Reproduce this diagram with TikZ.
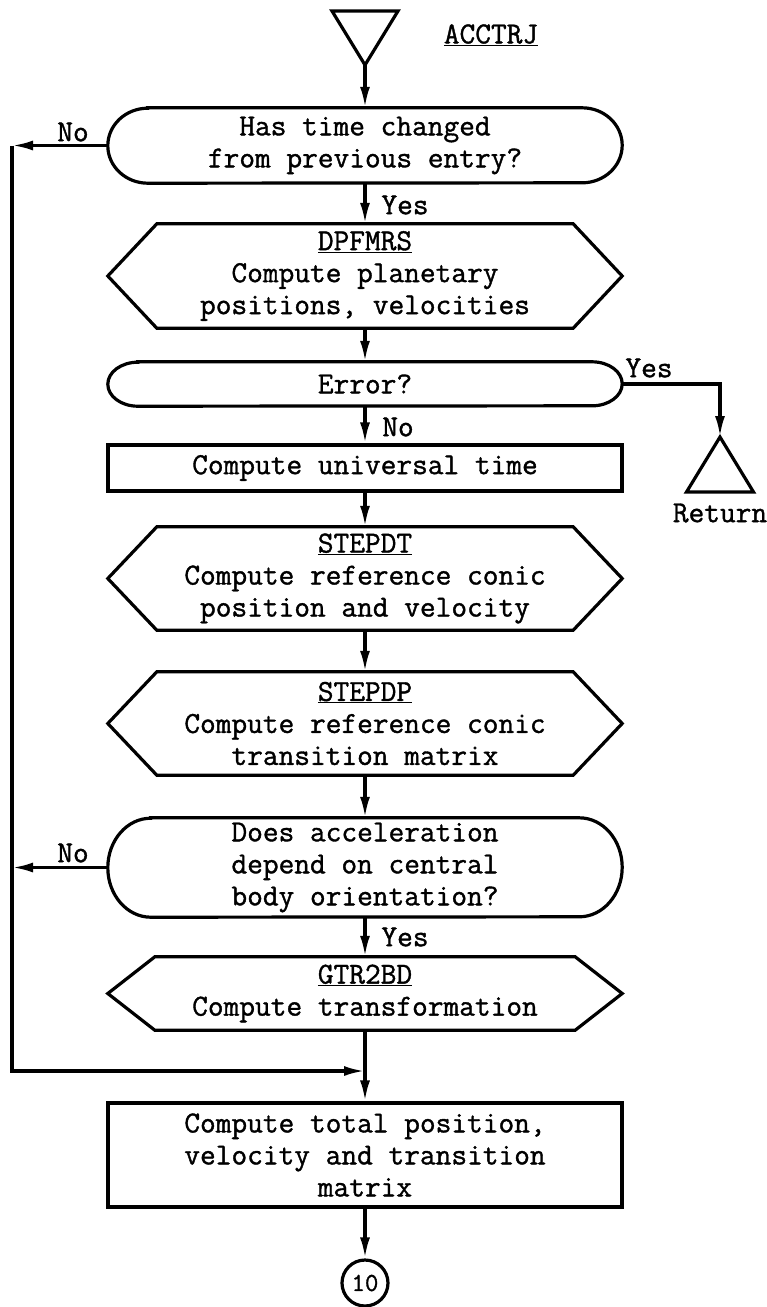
\documentclass[tikz,border=0pt]{standalone}
\usepackage{fontspec}
\setmonofont{Latin Modern Mono}[FakeBold=1.2]
\usetikzlibrary{arrows.meta,calc}
\tikzset{
  ln/.style={line width=3.2pt},
  arr/.style={ln, -{Latex[length=21pt,width=10pt]}},
  txt/.style={font=\ttfamily\fontsize{30.5}{32}\selectfont, align=center, inner sep=0pt},
  shp/.style={txt, minimum width=514pt},
  pinbox/.style={inner sep=0pt, outer sep=0pt},
}
\newcommand\hexdraw[2]{\draw[ln] (#1.west) -- ([xshift=#2]#1.north west) -- ([xshift=-#2]#1.north east) -- (#1.east) -- ([xshift=-#2]#1.south east) -- ([xshift=#2]#1.south west) -- cycle;}
\newcommand\stadraw[3]{\draw[ln] ([xshift=#2]#1.north west) -- ([xshift=-#2]#1.north east) arc[start angle=90,end angle=-90,x radius=#2,y radius=#3] -- ([xshift=#2]#1.south west) arc[start angle=270,end angle=90,x radius=#2,y radius=#3] -- cycle;}
\begin{document}
\begin{tikzpicture}[x=1pt,y=1pt]
\useasboundingbox (0,0) rectangle (766,-1307);
% start
\node[pinbox, minimum width=66pt, minimum height=54pt] (st) at (365,-38) {};
\draw[ln] (st.north west) -- (st.north east) -- (st.south) -- cycle;
\node[txt] (acc) at (491,-35) {\underline{ACCTRJ}};
% decision 1
\node[shp, minimum height=75pt] (d1) at (365,-145.5) {Has time changed\\from previous entry?};
\stadraw{d1}{40}{37.5}
\draw[arr] (st.south) -- (d1.north);
\node[txt] (no1) at (73,-132) {No};
\coordinate (L1) at (12,-145.5);
\draw[arr] (d1.west) -- (L1);
% hex 1
\node[shp, minimum height=104pt] (h1) at (365,-276) {\underline{DPFMRS}\\Compute planetary\\positions, velocities};
\hexdraw{h1}{49}
\draw[arr] (d1.south) -- (h1.north);
\node[txt] (yes1) at (405,-205) {Yes};
% error
\node[shp, minimum height=44pt] (d2) at (365,-384) {Error?};
\stadraw{d2}{30}{22}
\draw[arr] (h1.south) -- (d2.north);
\node[txt] (yes2) at (649,-368) {Yes};
\node[pinbox, minimum width=67pt, minimum height=55pt] (ret) at (720,-464.5) {};
\draw[ln] (ret.north) -- (ret.south east) -- (ret.south west) -- cycle;
\draw[arr] (d2.east) -| (ret.north);
\node[txt] (rtn) at (720,-513) {Return};
\node[txt] (no2) at (398,-427) {No};
% box 1
\node[shp, draw, ln, minimum height=46pt] (b1) at (365,-468) {Compute universal time};
\draw[arr] (d2.south) -- (b1.north);
% hex 2
\node[shp, minimum height=103pt] (h2) at (365,-578.5) {\underline{STEPDT}\\Compute reference conic\\position and velocity};
\hexdraw{h2}{49}
\draw[arr] (b1.south) -- (h2.north);
% hex 3
\node[shp, minimum height=103pt] (h3) at (365,-723.5) {\underline{STEPDP}\\Compute reference conic\\transition matrix};
\hexdraw{h3}{49}
\draw[arr] (h2.south) -- (h3.north);
% decision 3
\node[shp, minimum height=99pt] (d3) at (365,-867.5) {Does acceleration\\depend on central\\body orientation?};
\stadraw{d3}{43}{49.5}
\draw[arr] (h3.south) -- (d3.north);
\node[txt] (no3) at (73,-853) {No};
\coordinate (L2) at (12,-867.5);
\draw[arr] (d3.west) -- (L2);
\node[txt] (yes3) at (405,-937) {Yes};
% hex 4
\node[shp, minimum height=73pt] (h4) at (365,-993.5) {\underline{GTR2BD}\\Compute transformation};
\hexdraw{h4}{47}
\draw[arr] (d3.south) -- (h4.north);
% join
\coordinate (J) at (365,-1071);
% box 2
\node[shp, draw, ln, minimum height=104pt] (b2) at (365,-1155) {Compute total position,\\velocity and transition\\matrix};
\draw[arr] (h4.south) -- (b2.north);
\draw[arr] (L1) |- (J);
% connector
\node[txt, font=\ttfamily\fontsize{26}{28}\selectfont, circle, draw, ln, minimum size=46pt] (c10) at (365,-1283) {10};
\draw[arr] (b2.south) -- (c10.north);
\end{tikzpicture}
\end{document}
